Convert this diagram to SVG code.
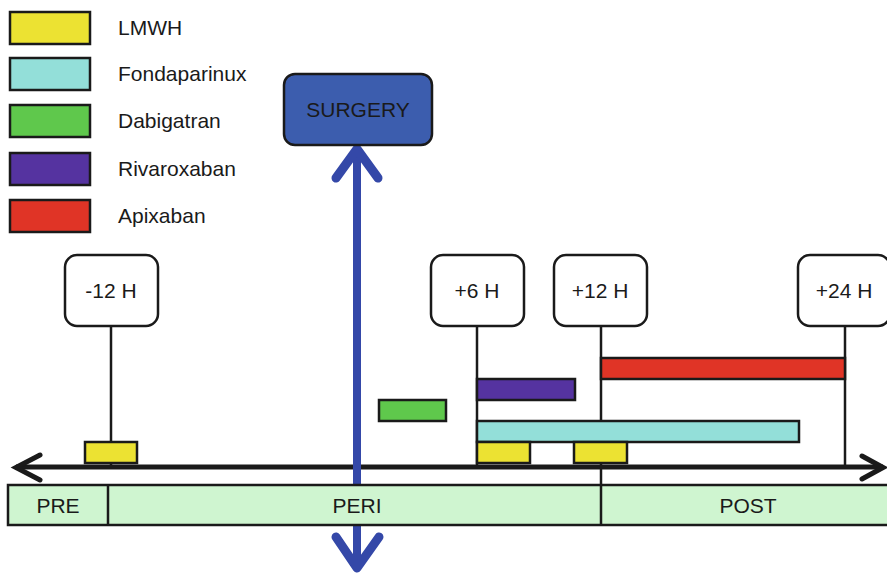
<svg xmlns="http://www.w3.org/2000/svg" width="887" height="575" viewBox="0 0 887 575">
<style>
text{font-family:"Liberation Sans",Arial,sans-serif;font-size:21px;fill:#1a1a1a}
.bar{stroke:#1a1a1a;stroke-width:2.5}
.lmwh{fill:#ece232}.fond{fill:#93dfd9}.dabi{fill:#5fc84c}.riva{fill:#5533a0}.apix{fill:#e03426}
.tbox{fill:#fff;stroke:#1a1a1a;stroke-width:2.5}
.tline{stroke:#1a1a1a;stroke-width:2.5;fill:none}
.phase{fill:#cff5d0;stroke:#1a1a1a;stroke-width:2.5}
.c{text-anchor:middle}
</style>
<g id="legend">
<rect class="bar lmwh" x="10" y="12" width="80" height="32"/>
<text x="118" y="35">LMWH</text>
<rect class="bar fond" x="10" y="58" width="80" height="32"/>
<text x="118" y="81">Fondaparinux</text>
<rect class="bar dabi" x="10" y="105" width="80" height="32"/>
<text x="118" y="128">Dabigatran</text>
<rect class="bar riva" x="10" y="153" width="80" height="32"/>
<text x="118" y="176">Rivaroxaban</text>
<rect class="bar apix" x="10" y="200" width="80" height="32"/>
<text x="118" y="223">Apixaban</text>
</g>
<g id="connectors">
<line class="tline" x1="111" y1="326" x2="111" y2="467"/>
<line class="tline" x1="477" y1="326" x2="477" y2="467"/>
<line class="tline" x1="601" y1="326" x2="601" y2="485"/>
<line class="tline" x1="845" y1="326" x2="845" y2="467"/>
</g>
<g id="bars">
<rect class="bar apix" x="601" y="358" width="244" height="21"/>
<rect class="bar riva" x="477" y="379" width="98" height="21"/>
<rect class="bar dabi" x="379" y="400" width="67" height="21"/>
<rect class="bar fond" x="477" y="421" width="322" height="21"/>
<rect class="bar lmwh" x="85" y="442" width="52" height="21"/>
<rect class="bar lmwh" x="477" y="442" width="53" height="21"/>
<rect class="bar lmwh" x="574" y="442" width="53" height="21"/>
</g>
<g id="timeline">
<line x1="16" y1="467" x2="883" y2="467" stroke="#1a1a1a" stroke-width="5"/>
<polyline points="40,455 16,467.5 40,480" fill="none" stroke="#1a1a1a" stroke-width="5" stroke-linecap="round" stroke-linejoin="miter"/>
<polyline points="862,456 883,467.5 862,479" fill="none" stroke="#1a1a1a" stroke-width="5" stroke-linecap="round" stroke-linejoin="miter"/>
</g>
<g id="surgery-arrow">
<line x1="357" y1="150" x2="357" y2="570" stroke="#3448a8" stroke-width="8"/>
<polyline points="336,178 357,149 378,178" fill="none" stroke="#3448a8" stroke-width="9" stroke-linecap="round" stroke-linejoin="round"/>
<polyline points="336,537 357,568 379,537" fill="none" stroke="#3448a8" stroke-width="9" stroke-linecap="round" stroke-linejoin="round"/>
</g>
<g id="phases">
<rect class="phase" x="8" y="485" width="885" height="40"/>
<line class="tline" x1="108" y1="485" x2="108" y2="525"/>
<line class="tline" x1="601" y1="485" x2="601" y2="525"/>
<text class="c" x="58" y="513">PRE</text>
<text class="c" x="357" y="513">PERI</text>
<text class="c" x="748" y="513">POST</text>
</g>
<g id="surgery">
<rect x="284" y="74" width="148" height="71" rx="11" fill="#3c5dae" stroke="#1a1a1a" stroke-width="2.5"/>
<text class="c" x="358" y="117">SURGERY</text>
</g>
<g id="t-12">
<rect class="tbox" x="65" y="255" width="93" height="71" rx="12"/>
<text class="c" x="111" y="298">-12 H</text>
</g>
<g id="t6">
<rect class="tbox" x="431" y="255" width="93" height="71" rx="12"/>
<text class="c" x="477" y="298">+6 H</text>
</g>
<g id="t12">
<rect class="tbox" x="554" y="255" width="93" height="71" rx="12"/>
<text class="c" x="600" y="298">+12 H</text>
</g>
<g id="t24">
<rect class="tbox" x="798" y="255" width="92" height="71" rx="12"/>
<text class="c" x="844" y="298">+24 H</text>
</g>
</svg>
